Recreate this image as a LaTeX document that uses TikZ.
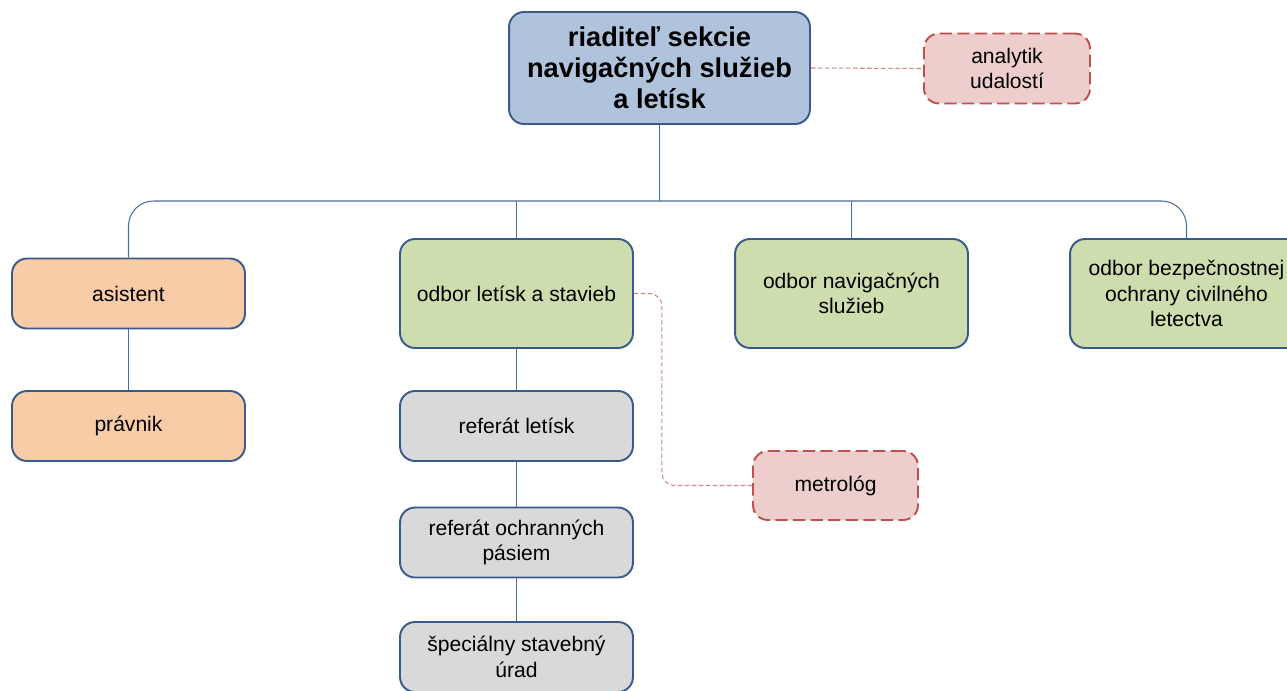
\documentclass[tikz,border=0pt]{standalone}
\usepackage{fontspec}
\setmainfont{Liberation Sans}
\usetikzlibrary{positioning}

\definecolor{frame}{HTML}{3A5A8C}
\definecolor{wire}{HTML}{4F6D9A}
\definecolor{topfill}{HTML}{B0C3DD}
\definecolor{orangefill}{HTML}{F9CCA8}
\definecolor{greenfill}{HTML}{CEDDAD}
\definecolor{grayfill}{HTML}{D9D9D9}
\definecolor{redfill}{HTML}{EECDCD}
\definecolor{redline}{HTML}{C0504D}

\tikzset{
  unit/.style = {draw=frame, line width=1.1pt, rounded corners=0.3cm, align=center,
                 inner sep=2pt, font=\fontsize{12}{14.5}\selectfont},
  chief/.style = {unit, fill=topfill, minimum width=6.02cm, minimum height=2.24cm,
                  font=\bfseries\fontsize{15.5}{17.6}\selectfont},
  staff/.style = {unit, fill=orangefill, minimum width=4.66cm, minimum height=1.4cm},
  dept/.style = {unit, fill=greenfill, minimum width=4.66cm, minimum height=2.18cm},
  desk/.style = {unit, fill=grayfill, minimum width=4.66cm, minimum height=1.4cm},
  expert/.style = {unit, fill=redfill, draw=redline, dash pattern=on 7pt off 3pt,
                   minimum width=3.32cm, minimum height=1.4cm},
  wired/.style = {draw=wire, line width=0.6pt},
  link/.style = {draw=redline!70, line width=0.6pt, dash pattern=on 2.5pt off 1.5pt}
}

\begin{document}
\begin{tikzpicture}[x=0.02cm, y=-0.02cm]
\useasboundingbox (0,0) rectangle (1287,690);

\node[chief] (chief) at (659.5,68) {riaditeľ sekcie\\navigačných služieb\\a letísk};
\node[expert] (analyst) at (1007,68.5) {analytik\\udalostí};

\node[staff] (assistant) at (128.5,293.5) {asistent};
\node[staff] (lawyer) at (128.5,426) {právnik};

\node[dept] (airports) at (516.5,293.5) {odbor letísk a stavieb};
\node[dept] (navigation) at (851.5,293.5) {odbor navigačných\\služieb};
\node[dept] (security) at (1186.5,293.5) {odbor bezpečnostnej\\ochrany civilného\\letectva};

\node[desk] (deskair) at (516.5,426) {referát letísk};
\node[desk] (deskzones) at (516.5,542.5) {referát ochranných\\pásiem};
\node[desk] (deskoffice) at (516.5,657) {špeciálny stavebný\\úrad};

\node[expert, minimum width=3.3cm, minimum height=1.38cm] (metrologist) at (835.5,485.5) {metrológ};

\coordinate (bus) at (659.5,201);

\draw[wired] (chief.south) -- (bus);
\draw[wired, rounded corners=0.5cm] (assistant.north) |- (bus) -| (security.north);
\draw[wired] (airports.north) -- (airports.north |- bus);
\draw[wired] (navigation.north) -- (navigation.north |- bus);
\draw[wired] (assistant) -- (lawyer);
\draw[wired] (airports) -- (deskair);
\draw[wired] (deskair) -- (deskzones);
\draw[wired] (deskzones) -- (deskoffice);

\draw[link] (chief.east) -- (analyst.west);
\draw[link, rounded corners=0.25cm] (airports.east) -- ++(28,0) |- (metrologist.west);
\end{tikzpicture}
\end{document}
